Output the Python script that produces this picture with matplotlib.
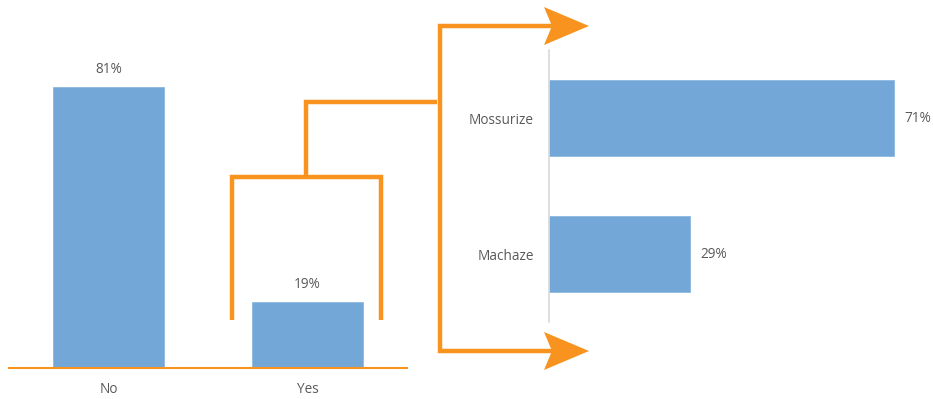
import matplotlib
matplotlib.use("Agg")
import matplotlib.pyplot as plt
from matplotlib.patches import Polygon

plt.rcParams['font.family'] = ['Open Sans', 'DejaVu Sans']

# Data
answers = ["No", "Yes"]
answer_share = [81, 19]
districts = ["Mossurize", "Machaze"]
district_share = [71, 29]

BLUE = "#73A7D7"
ORANGE = "#F7931E"
TEXT = "#595959"
FS = 9.8
W, H = 933, 399

fig = plt.figure(figsize=(W / 100, H / 100), dpi=100)


def px_axes(x0, y0, x1, y1):
    """Axes placed by pixel box (top-left origin)."""
    return fig.add_axes([x0 / W, 1 - y1 / H, (x1 - x0) / W, (y1 - y0) / H])


# Left: column chart
ax1 = px_axes(9, 56, 407, 368)
ax1.bar(range(len(answers)), answer_share, width=0.553, color=BLUE, edgecolor="#8DB8E0", linewidth=0.6)
ax1.set_xlim(-0.5, 1.5)
ax1.set_ylim(0, 90)
for i, v in enumerate(answer_share):
    ax1.text(i, v + 3, f"{v}%", ha="center", va="bottom", fontsize=FS, color=TEXT)
ax1.set_xticks(range(len(answers)))
ax1.set_xticklabels(answers, fontsize=FS, color=TEXT)
ax1.tick_params(axis="x", length=0, pad=10)
ax1.set_yticks([])
for s in ["top", "right", "left"]:
    ax1.spines[s].set_visible(False)
ax1.spines["bottom"].set_color(ORANGE)
ax1.spines["bottom"].set_linewidth(1.5)

# Right: bar chart
ax2 = px_axes(549, 50, 933, 322)
ax2.barh(range(len(districts)), district_share, height=0.553, color=BLUE, edgecolor="#8DB8E0", linewidth=0.6)
ax2.set_ylim(1.5, -0.5)
ax2.set_xlim(0, 79)
for i, v in enumerate(district_share):
    ax2.text(v + 2.2, i, f"{v}%", ha="left", va="center", fontsize=FS, color=TEXT)
ax2.set_yticks(range(len(districts)))
ax2.set_yticklabels(districts, fontsize=FS, color=TEXT)
ax2.tick_params(axis="y", length=0, pad=11)
ax2.set_xticks([])
for s in ["top", "right", "bottom"]:
    ax2.spines[s].set_visible(False)
ax2.spines["left"].set_color("#D9D9D9")
ax2.spines["left"].set_linewidth(1.2)

# Overlay: orange connectors and arrows
ov = fig.add_axes([0, 0, 1, 1], zorder=5)
ov.set_xlim(0, W)
ov.set_ylim(H, 0)
ov.axis("off")
ov.patch.set_alpha(0)

lw = 3.2
style = dict(color=ORANGE, lw=lw, solid_joinstyle="miter", solid_capstyle="butt")
ov.plot([232, 232, 381, 381], [320, 177, 177, 320], **style)
ov.plot([306, 306, 437], [177, 102, 102], **style)
ov.plot([552, 440, 440, 552], [26, 26, 351, 351], **style)

for yc in (26, 351):
    head = Polygon([(589, yc), (544, yc - 19), (552, yc), (544, yc + 19)],
                   closed=True, facecolor=ORANGE, edgecolor="none")
    ov.add_patch(head)

fig.savefig("out.png", dpi=100)
